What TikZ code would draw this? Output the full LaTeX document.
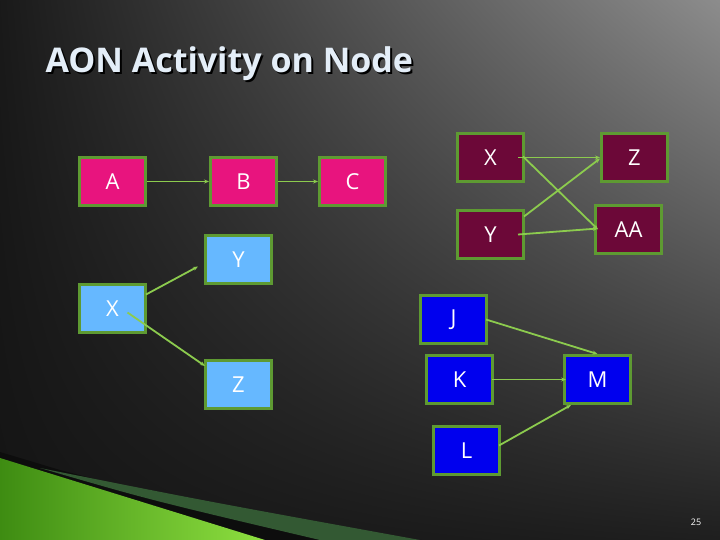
\documentclass[tikz,border=0pt]{standalone}
\usepackage{fontspec}
\setmainfont{Open Sans}
\usetikzlibrary{arrows.meta,shadings}
\definecolor{bord}{HTML}{5E9A32}
\definecolor{edge}{HTML}{8CCB4E}
\definecolor{pinkc}{HTML}{E8147E}
\definecolor{skyc}{HTML}{66B8FF}
\definecolor{maroonc}{HTML}{6C0838}
\definecolor{bluec}{HTML}{0000EE}
\definecolor{swl}{HTML}{3E8C12}
\definecolor{swr}{HTML}{8EE040}
\definecolor{titc}{HTML}{E4EEF8}
\begin{document}
\begin{tikzpicture}[x=1pt,y=-1pt,
  box/.style={draw=bord,line width=3pt,minimum width=66pt,minimum height=48pt,inner sep=0pt,text=white,font=\fontsize{22}{24}\selectfont,anchor=north west},
  conn/.style={draw=edge,line width=1.8pt,-{Stealth[length=5pt,width=4pt]}}]
\useasboundingbox (0,0) rectangle (720,540);
\shade[upper left=black!90, upper right=black!45, lower left=black!92, lower right=black!88] (0,0) rectangle (720,540);
% swoosh
\fill[black!95] (0,452) -- (60,470) -- (330,540) -- (0,540) -- cycle;
\fill[green!25!black!60!gray] (40,468) .. controls (200,500) .. (420,540) -- (320,540) .. controls (150,500) .. (40,468) -- cycle;
\shade[left color=swl, right color=swr] (0,458) -- (265,540) -- (0,540) -- cycle;
% title
\node[anchor=west,text=black,font=\fontsize{34}{36}\selectfont\bfseries] (tsh) at (44,66) {AON Activity on Node};
\node[anchor=west,text=titc,font=\fontsize{34}{36}\selectfont\bfseries] (title) at (42,64) {AON Activity on Node};
% left nodes
\node[box,fill=pinkc] (A) at (78,156) {A};
\node[box,fill=pinkc] (B) at (209,156) {B};
\node[box,fill=pinkc] (C) at (318,156) {C};
\node[box,fill=skyc] (Y1) at (204,234) {Y};
\node[box,fill=skyc] (X1) at (78,283) {X};
\node[box,fill=skyc] (Z1) at (204,359) {Z};
% right upper
\node[box,fill=maroonc] (X2) at (456,132) {X};
\node[box,fill=maroonc] (Z2) at (600,132) {Z};
\node[box,fill=maroonc] (Y2) at (456,209) {Y};
\node[box,fill=maroonc] (AA) at (594,204) {AA};
% right lower
\node[box,fill=bluec] (J) at (419,294) {J};
\node[box,fill=bluec] (K) at (425,354) {K};
\node[box,fill=bluec] (M) at (563,354) {M};
\node[box,fill=bluec] (L) at (432,425) {L};
% connectors
\draw[conn] (A.east) -- (B.west);
\draw[conn] (B.east) -- (C.west);
\draw[conn] ([xshift=-1pt,yshift=14pt]X1.east) -- ([xshift=-6pt,yshift=-7pt]Y1.west);
\draw[conn] ([xshift=15pt,yshift=-4pt]X1.center) -- ([xshift=1pt,yshift=-7pt]Z1.north west);
\draw[conn] ([xshift=-7pt]X2.east) -- (Z2.west);
\draw[conn] ([xshift=-2pt,yshift=1pt]X2.east) -- ([xshift=4pt]AA.west);
\draw[conn] ([xshift=-1pt,yshift=18pt]Y2.east) -- ([yshift=-1pt]Z2.west);
\draw[conn] ([xshift=-7pt]Y2.east) -- ([xshift=4pt,yshift=1pt]AA.west);
\draw[conn] ([xshift=-2pt]J.east) -- (M.north);
\draw[conn] ([xshift=-2pt]K.east) -- ([xshift=3pt]M.west);
\draw[conn] ([xshift=-2pt,yshift=5pt]L.east) -- ([xshift=8pt]M.south west);
\node[text=white,font=\fontsize{9}{10}\selectfont] (pg) at (696,522) {25};
\end{tikzpicture}
\end{document}
